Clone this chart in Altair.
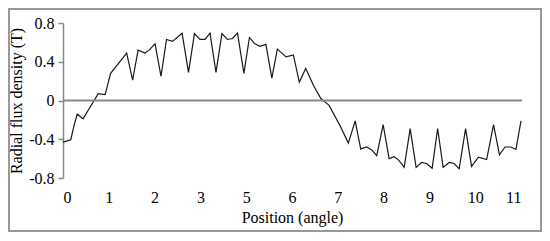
import json
import altair as alt
import pandas as pd

# Position index (0..10 along the axis) and radial flux density (T)
pos = [0.00, 0.17, 0.24, 0.31, 0.44, 0.55, 0.77, 0.92, 1.04, 1.39, 1.52, 1.64, 1.79, 1.88,
       2.01, 2.14, 2.26, 2.39, 2.60, 2.74, 2.87, 2.99, 3.10, 3.21, 3.34, 3.47, 3.59, 3.70,
       3.81, 3.95, 4.07, 4.19, 4.30, 4.43, 4.56, 4.68, 4.87, 5.03, 5.16, 5.30, 5.47, 5.63,
       5.81, 6.05, 6.23, 6.38, 6.50, 6.63, 6.74, 6.85, 6.99, 7.12, 7.23, 7.32, 7.45, 7.58,
       7.71, 7.83, 7.94, 8.06, 8.18, 8.30, 8.43, 8.54, 8.65, 8.79, 8.92, 9.07, 9.25, 9.40,
       9.53, 9.65, 9.78, 9.89, 10.00]
flux = [-0.43, -0.405, -0.26, -0.14, -0.19, -0.10, 0.07, 0.06, 0.28, 0.49, 0.21, 0.52, 0.49, 0.52,
        0.585, 0.25, 0.63, 0.61, 0.695, 0.29, 0.69, 0.63, 0.63, 0.695, 0.29, 0.69, 0.63, 0.64,
        0.695, 0.28, 0.65, 0.585, 0.56, 0.58, 0.23, 0.53, 0.45, 0.47, 0.19, 0.33, 0.155, 0.02,
        -0.05, -0.26, -0.44, -0.21, -0.50, -0.48, -0.51, -0.57, -0.25, -0.60, -0.58, -0.61, -0.69, -0.29,
        -0.69, -0.64, -0.65, -0.70, -0.29, -0.69, -0.64, -0.65, -0.705, -0.29, -0.68, -0.585, -0.61, -0.25,
        -0.56, -0.48, -0.48, -0.505, -0.21]

x_labels = ["0", "1", "2", "3", "5", "6", "7", "8", "9", "10", "11"]
y_ticks = [-0.8, -0.4, 0, 0.4, 0.8]

df = pd.DataFrame({"pos": pos, "flux": flux})

FONT = "Liberation Serif"
FS = 16

x_scale = alt.Scale(domain=[0, 10], nice=False, zero=False)
y_scale = alt.Scale(domain=[-0.8, 0.8], nice=False)

x_axis = alt.Axis(
    values=list(range(len(x_labels))),
    labelExpr=json.dumps(x_labels) + "[datum.value]",
    domain=False, ticks=False, grid=False, labelOverlap=False,
    labelPadding=11, labelFontSize=FS, labelFont=FONT, labelColor="#000",
    title="Position  (angle)", titleFont=FONT, titleFontSize=FS,
    titleFontWeight="normal", titleColor="#000", titlePadding=4,
)
y_axis = alt.Axis(
    values=y_ticks,
    labelExpr="'' + datum.value",
    domain=True, domainColor="#888", domainWidth=1.5,
    ticks=True, tickSize=5, tickColor="#888", tickWidth=1.5, grid=False,
    labelOverlap=False, labelBound=False, labelFlush=False,
    labelPadding=4, labelFontSize=FS, labelFont=FONT, labelColor="#000",
    title="Radial flux density  (T)", titleFont=FONT, titleFontSize=FS,
    titleFontWeight="normal", titleColor="#000", titlePadding=4,
)

line = alt.Chart(df).mark_line(color="#1a1a1a", strokeWidth=1.2).encode(
    x=alt.X("pos:Q", scale=x_scale, axis=x_axis),
    y=alt.Y("flux:Q", scale=y_scale, axis=y_axis),
)

zero = alt.Chart(pd.DataFrame({"flux": [0]})).mark_rule(color="#888", strokeWidth=2).encode(
    y=alt.Y("flux:Q", scale=y_scale, axis=y_axis),
    x=alt.value(0), x2=alt.value(459),
)

frame = alt.Chart(pd.DataFrame({"a": [0]})).mark_rect(
    fill=None, stroke="#999", strokeWidth=2
).encode(
    x=alt.value(-54), x2=alt.value(478),
    y=alt.value(-14), y2=alt.value(208),
)

chart = alt.layer(line, zero, frame).properties(
    width=458, height=155,
    padding={"left": 55, "top": 15, "right": 21, "bottom": 55},
    autosize=alt.AutoSizeParams(type="none"),
).configure(
    background="white", font=FONT
).configure_view(stroke=None)

chart.save("out.html", embed_options={"renderer": "svg", "actions": False})
